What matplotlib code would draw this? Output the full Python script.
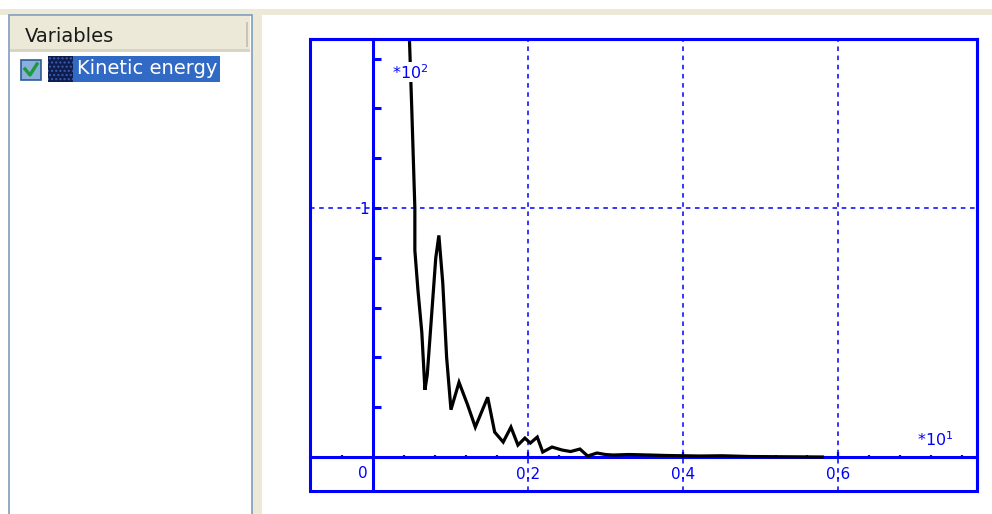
import matplotlib
matplotlib.use("Agg")
import matplotlib.pyplot as plt
from matplotlib.patches import Rectangle

# Kinetic energy trace (x in units of 10^1, y in units of 10^2)
time_vals = [0.045, 0.047, 0.050, 0.054, 0.054, 0.058, 0.063, 0.067, 0.070,
             0.074, 0.081, 0.085, 0.090, 0.095, 0.1006, 0.111, 0.122, 0.132,
             0.148, 0.157, 0.168, 0.178, 0.187, 0.196, 0.203, 0.212, 0.219,
             0.231, 0.244, 0.255, 0.267, 0.277, 0.289, 0.300, 0.310, 0.330,
             0.357, 0.380, 0.422, 0.450, 0.486, 0.530, 0.580]
ke_vals = [1.80, 1.68, 1.40, 1.00, 0.83, 0.67, 0.50, 0.27, 0.33,
           0.50, 0.80, 0.89, 0.70, 0.40, 0.19, 0.30, 0.21, 0.12,
           0.24, 0.10, 0.06, 0.12, 0.048, 0.076, 0.056, 0.080, 0.020,
           0.040, 0.028, 0.022, 0.032, 0.004, 0.016, 0.010, 0.008, 0.010,
           0.008, 0.006, 0.004, 0.005, 0.002, 0.001, 0.0]

x_labels = ["0.2", "0.4", "0.6"]
x_major = [0.2, 0.4, 0.6]
y_ticks = [0.2, 0.4, 0.6, 0.8, 1.0, 1.2, 1.4, 1.6]
variable_names = ["Kinetic energy"]

W, H = 992, 514
BLUE = "#0000FF"
BEIGE = "#ECE9D8"


def fig_rect(x0, y0, x1, y1):
    # pixel box (top-left origin) -> figure fraction
    return (x0 / W, 1 - y1 / H, (x1 - x0) / W, (y1 - y0) / H)


fig = plt.figure(figsize=(W / 100, H / 100), dpi=100)
fig.patch.set_facecolor("white")

# window chrome
def add_box(x0, y0, x1, y1, **kw):
    l, b, w, h = fig_rect(x0, y0, x1, y1)
    fig.patches.append(Rectangle((l, b), w, h, transform=fig.transFigure, **kw))

add_box(0, 9, W, 15, facecolor=BEIGE, edgecolor="none")
add_box(252, 15, 262, H, facecolor=BEIGE, edgecolor="none")
add_box(8.5, 14.5, 252.5, H + 5, facecolor="white", edgecolor="#7F9DB9", lw=1.2)
add_box(10, 16, 250, 52, facecolor=BEIGE, edgecolor="none")
add_box(10, 49, 250, 52, facecolor="#D8D4C4", edgecolor="none")
add_box(246, 22, 247.5, 47, facecolor="#C9C5B5", edgecolor="none")
fig.text(25 / W, 1 - 37 / H, "Variables", fontsize=14, color="#1a1a1a",
         ha="left", va="center")

# checkbox, swatch and selected name
add_box(21, 60, 41, 80, facecolor="#8BAFDC", edgecolor="#2D5C98", lw=1.2)
fig.lines.append(plt.Line2D([25 / W, 30 / W, 37 / W],
                            [1 - 69 / H, 1 - 75 / H, 1 - 64 / H],
                            transform=fig.transFigure, color="#1E9A3A", lw=2.4))
add_box(48, 56, 73, 82, facecolor="#0E1C4E", edgecolor="#3A5CB0",
        hatch="....", lw=0)
add_box(73, 56, 220, 82, facecolor="#316AC5", edgecolor="none")
fig.text(77 / W, 1 - 69 / H, variable_names[0], fontsize=14, color="white",
         ha="left", va="center")

# plot area
ax = fig.add_axes(fig_rect(310, 39, 977, 491))
ax.set_xlim(-0.0813, 0.7794)
ax.set_ylim(-0.1365, 1.6787)

for side in ["left", "bottom", "top", "right"]:
    ax.spines[side].set_color(BLUE)
    ax.spines[side].set_linewidth(2.2)
ax.spines["left"].set_position(("data", 0))
ax.spines["bottom"].set_position(("data", 0))
ax.add_patch(Rectangle((0, 0), 1, 1, transform=ax.transAxes, fill=False,
                       edgecolor=BLUE, lw=2.2, clip_on=False, zorder=5))

dash = (0, (3, 3))
for xv in x_major:
    ax.axvline(xv, color=BLUE, lw=1.1, linestyle=dash, zorder=1)
ax.axhline(1.0, color=BLUE, lw=1.1, linestyle=dash, zorder=1)

ax.set_yticks(y_ticks)
ax.set_yticklabels(["1" if abs(v - 1.0) < 1e-9 else "" for v in y_ticks])
ax.tick_params(axis="y", direction="in", length=5.5, width=2.2, colors=BLUE,
               labelsize=11, pad=3)

ax.set_xticks(x_major)
ax.set_xticklabels(x_labels)
ax.set_xticks([round(-0.04 + 0.04 * i, 2) for i in range(21)
               if round(-0.04 + 0.04 * i, 2) not in (0.0, 0.2, 0.4, 0.6)],
              minor=True)
ax.tick_params(axis="x", which="major", direction="in", length=3.5, width=1.6,
               colors=BLUE, labelsize=11, pad=7)
ax.tick_params(axis="x", which="minor", direction="in", length=1.5, width=1.6,
               colors=BLUE)

ax.text(-0.013, -0.068, "0", color=BLUE, fontsize=11, ha="center", va="center")
ax.text(0.725, 0.068, r"$\mathregular{*10^1}$", color=BLUE, fontsize=11.5,
        ha="center", va="center")

ax.plot(time_vals, ke_vals, color="black", lw=2.3, zorder=4,
        solid_joinstyle="miter")
ax.text(0.048, 1.545, r"$\mathregular{*10^2}$", color=BLUE, fontsize=11.5,
        ha="center", va="center", zorder=6,
        bbox=dict(facecolor="white", edgecolor="none", pad=0.5))

fig.savefig("out.png", dpi=100)
